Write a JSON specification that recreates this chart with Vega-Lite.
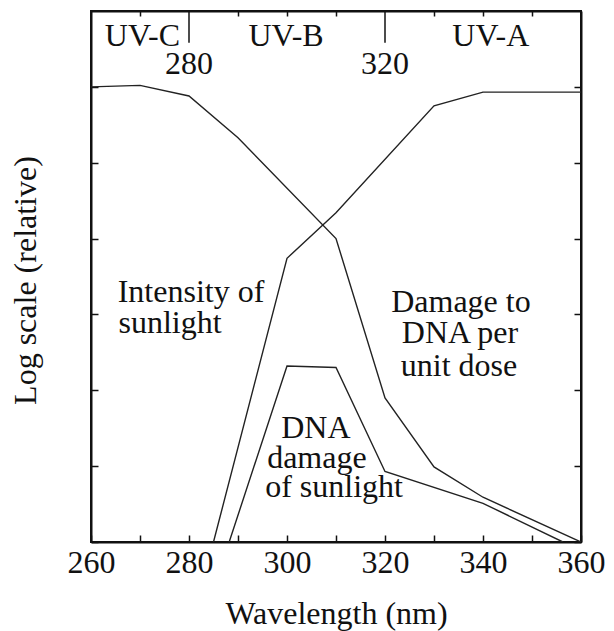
{
  "$schema": "https://vega.github.io/schema/vega-lite/v6.json",
  "width": 490,
  "height": 531,
  "autosize": "none",
  "padding": {"left": 91, "top": 11, "right": 33, "bottom": 89},
  "background": "white",
  "config": {
    "font": "Liberation Serif",
    "view": {"stroke": "#111", "strokeWidth": 2},
    "axis": {
      "labelFont": "Liberation Serif",
      "titleFont": "Liberation Serif",
      "labelColor": "#111",
      "titleColor": "#111",
      "domainColor": "#111",
      "tickColor": "#111",
      "grid": false,
      "labelFontSize": 32,
      "titleFontSize": 32,
      "titleFontWeight": "normal",
      "domainWidth": 2,
      "tickWidth": 1.5
    }
  },
  "datasets": {
    "curves": [
      {"series": "Damage to DNA per unit dose", "wl": 260, "v": 6.0},
      {"series": "Damage to DNA per unit dose", "wl": 270, "v": 6.02},
      {"series": "Damage to DNA per unit dose", "wl": 280, "v": 5.88},
      {"series": "Damage to DNA per unit dose", "wl": 290, "v": 5.33},
      {"series": "Damage to DNA per unit dose", "wl": 310, "v": 4.0},
      {"series": "Damage to DNA per unit dose", "wl": 320, "v": 1.9},
      {"series": "Damage to DNA per unit dose", "wl": 330, "v": 0.99},
      {"series": "Damage to DNA per unit dose", "wl": 340, "v": 0.59},
      {"series": "Damage to DNA per unit dose", "wl": 360, "v": 0.0},
      {"series": "Intensity of sunlight", "wl": 285, "v": 0.0},
      {"series": "Intensity of sunlight", "wl": 300, "v": 3.74},
      {"series": "Intensity of sunlight", "wl": 310, "v": 4.34},
      {"series": "Intensity of sunlight", "wl": 330, "v": 5.75},
      {"series": "Intensity of sunlight", "wl": 340, "v": 5.93},
      {"series": "Intensity of sunlight", "wl": 360, "v": 5.93},
      {"series": "DNA damage of sunlight", "wl": 288.2, "v": 0.0},
      {"series": "DNA damage of sunlight", "wl": 300, "v": 2.32},
      {"series": "DNA damage of sunlight", "wl": 310, "v": 2.3},
      {"series": "DNA damage of sunlight", "wl": 320, "v": 0.93},
      {"series": "DNA damage of sunlight", "wl": 340, "v": 0.51},
      {"series": "DNA damage of sunlight", "wl": 356.3, "v": 0.0}
    ],
    "bounds": [
      {"wl": 280},
      {"wl": 320}
    ],
    "notes": [
      {"wl": 270.5, "v": 6.54, "label": "UV-C"},
      {"wl": 299.8, "v": 6.54, "label": "UV-B"},
      {"wl": 341.6, "v": 6.54, "label": "UV-A"},
      {"wl": 280, "v": 6.17, "label": "280"},
      {"wl": 320, "v": 6.17, "label": "320"},
      {"wl": 280.41, "v": 3.164, "label": "Intensity of"},
      {"wl": 276.12, "v": 2.755, "label": "sunlight"},
      {"wl": 335.5, "v": 3.032, "label": "Damage to"},
      {"wl": 335.3, "v": 2.623, "label": "DNA per"},
      {"wl": 335.1, "v": 2.188, "label": "unit dose"},
      {"wl": 305.9, "v": 1.371, "label": "DNA"},
      {"wl": 306.1, "v": 0.976, "label": "damage"},
      {"wl": 309.6, "v": 0.593, "label": "of sunlight"}
    ]
  },
  "layer": [
    {
      "data": {"name": "curves"},
      "mark": {"type": "line", "color": "#222", "strokeWidth": 1.4, "clip": true},
      "encoding": {
        "x": {
          "field": "wl",
          "type": "quantitative",
          "scale": {"domain": [260, 360], "nice": false, "zero": false},
          "axis": {
            "orient": "bottom",
            "values": [260, 270, 280, 290, 300, 310, 320, 330, 340, 350, 360],
            "tickSize": -7,
            "labelPadding": 12,
            "labelBaseline": "top",
            "labelExpr": "datum.value % 20 === 0 ? datum.label : ''",
            "labelFlush": false,
            "labelOverlap": false,
            "title": "Wavelength (nm)",
            "titleX": 245,
            "titleY": 81,
            "titleAlign": "center",
            "titleBaseline": "alphabetic"
          }
        },
        "y": {
          "field": "v",
          "type": "quantitative",
          "scale": {"domain": [0, 7], "nice": false, "zero": false},
          "axis": {
            "orient": "left",
            "values": [0, 1, 2, 3, 4, 5, 6],
            "tickSize": -7,
            "labels": false,
            "title": "Log scale (relative)",
            "titleX": -56,
            "titleY": 269,
            "titleAngle": -90,
            "titleAlign": "center",
            "titleBaseline": "alphabetic"
          }
        },
        "detail": {"field": "series", "type": "nominal"}
      }
    },
    {
      "data": {"name": "bounds"},
      "mark": {"type": "rule", "color": "#111", "strokeWidth": 1.5},
      "encoding": {
        "x": {"field": "wl", "type": "quantitative", "axis": null},
        "y": {"datum": 7, "type": "quantitative", "axis": null},
        "y2": {"datum": 6.58}
      }
    },
    {
      "data": {"name": "notes"},
      "mark": {"type": "text", "font": "Liberation Serif", "fontSize": 32, "color": "#111", "baseline": "alphabetic", "align": "center"},
      "encoding": {
        "x": {
          "field": "wl",
          "type": "quantitative",
          "axis": {
            "orient": "top",
            "values": [270, 290, 300, 310, 330, 340, 350],
            "tickSize": -5,
            "labels": false,
            "title": null
          }
        },
        "y": {
          "field": "v",
          "type": "quantitative",
          "axis": {
            "orient": "right",
            "values": [0, 1, 2, 3, 4, 5, 6],
            "tickSize": -7,
            "labels": false,
            "title": null
          }
        },
        "text": {"field": "label"}
      }
    }
  ]
}
